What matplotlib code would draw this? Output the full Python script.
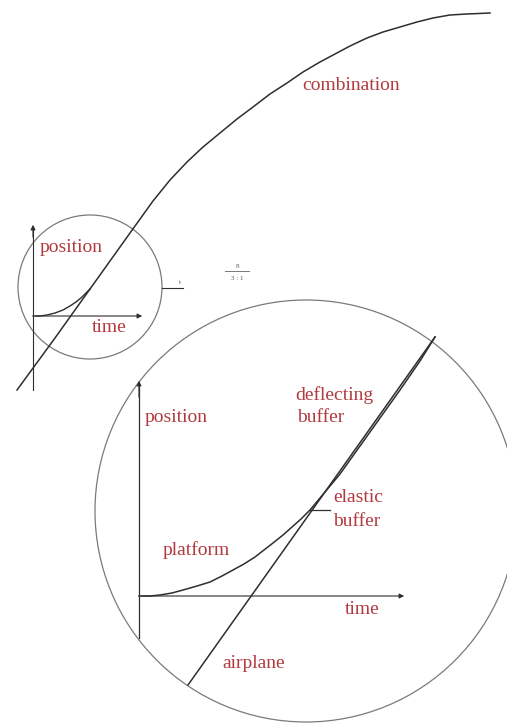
import matplotlib.pyplot as plt
from matplotlib.patches import Circle

# curve points (pixel coords, y down)
combo_x = [17, 55, 90, 130, 153, 170, 187, 203, 220, 237, 253, 270, 287, 303,
           320, 335, 350, 367, 383, 400, 417, 433, 450, 467, 490]
combo_y = [390, 338, 289, 233, 201, 180, 162, 147, 133, 119, 107, 94, 83, 72,
           62, 54, 46, 38, 32, 27, 22, 18, 15, 14, 13]

small_platform_x = [33, 40, 47, 55, 63, 70, 76, 82, 86, 90]
small_platform_y = [316, 316, 315, 313, 310, 306, 302, 297, 293, 289]

platform_x = [139, 150, 160, 172, 183, 197, 210, 222, 233, 244, 255, 264, 273,
              283, 292, 301, 310, 325, 340, 360, 380, 400, 420, 435]
platform_y = [596, 596, 595, 593, 590, 586, 582, 576, 570, 564, 557, 550, 543,
              535, 527, 519, 510, 492, 474, 446, 418, 390, 361, 337]

airplane_x = [188, 435]
airplane_y = [685, 337]

red = '#b23a3e'
ink = '#2e2e2e'
font = ['Liberation Serif', 'DejaVu Serif']

fig = plt.figure(figsize=(5.07, 7.23), dpi=100)
ax = fig.add_axes([0, 0, 1, 1])
ax.set_xlim(0, 507)
ax.set_ylim(723, 0)
ax.axis('off')

# circles
ax.add_patch(Circle((90, 287), 72, fill=False, ec='#7a7a7a', lw=0.9))
ax.add_patch(Circle((306, 511), 211, fill=False, ec='#7a7a7a', lw=0.9))

arrow = dict(arrowstyle='-|>', color=ink, lw=0.8, mutation_scale=7)

# small axes
ax.plot([33, 33], [390, 228], color=ink, lw=0.8)
ax.annotate('', xy=(33, 222), xytext=(33, 240), arrowprops=arrow)
ax.annotate('', xy=(145, 316), xytext=(33, 316), arrowprops=arrow)

# big axes
ax.plot([139, 139], [638, 385], color=ink, lw=0.9)
ax.annotate('', xy=(139, 378), xytext=(139, 400), arrowprops=arrow)
ax.annotate('', xy=(407, 596), xytext=(139, 596), arrowprops=arrow)

# curves
ax.plot(combo_x, combo_y, color=ink, lw=1.1)
ax.plot(small_platform_x, small_platform_y, color=ink, lw=1.0)
ax.plot(platform_x, platform_y, color=ink, lw=1.1)
ax.plot(airplane_x, airplane_y, color=ink, lw=1.1)

# marker ticks
ax.plot([162, 183], [288, 288], color=ink, lw=0.8)
ax.plot([310, 330], [510, 510], color=ink, lw=0.9)
ax.text(180, 284, 't', fontsize=5, color='#555555', ha='center', family=font)
ax.text(237, 268, '8', fontsize=5, color='#555555', ha='center', family=font)
ax.plot([225, 249], [271, 271], color='#777777', lw=0.7)
ax.text(237, 280, '3 : 1', fontsize=5, color='#555555', ha='center', family=font)

labels = [
    ('combination', 302, 85),
    ('position', 40, 248),
    ('time', 92, 327),
    ('position', 145, 417),
    ('deflecting', 295, 395),
    ('buffer', 297, 417),
    ('elastic', 333, 498),
    ('buffer', 333, 522),
    ('platform', 163, 550),
    ('time', 345, 610),
    ('airplane', 222, 663),
]
for s, x, y in labels:
    ax.text(x, y, s, fontsize=14, color=red, va='center', ha='left', family=font)

fig.savefig('out.png', dpi=100)
